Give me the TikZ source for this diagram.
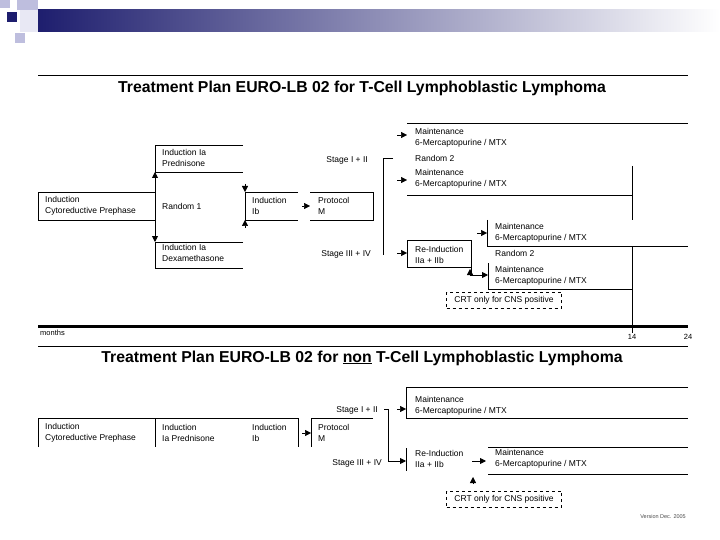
\documentclass[tikz,border=0pt]{standalone}
\usepackage{fontspec}
\setmainfont{Liberation Sans}
\usetikzlibrary{arrows.meta}
\definecolor{navy}{RGB}{30,30,110}
\definecolor{lav}{RGB}{190,190,222}
\begin{document}
\begin{tikzpicture}[x=1pt,y=-1pt,
  lbl/.style={font=\fontsize{8.5}{11}\selectfont, align=left, anchor=west, inner sep=0pt},
  stg/.style={font=\fontsize{8.5}{11}\selectfont, anchor=east, inner sep=0pt},
  sml/.style={font=\fontsize{7.5}{9}\selectfont, inner sep=0pt},
  ttl/.style={font=\fontsize{15.8}{18}\selectfont\bfseries, inner sep=0pt},
  ln/.style={line width=0.9pt},
  arr/.style={line width=0.9pt,-{Triangle[length=6pt,width=6pt]}},
  tipa/.style={line width=0.5pt,-{Triangle[length=6pt,width=6pt]}},
  crt/.style={draw, dashed, line width=0.6pt, font=\fontsize{8.5}{11}\selectfont, minimum width=115pt, minimum height=16pt, inner sep=0pt},
]
\useasboundingbox (0,0) rectangle (720,540);
\fill[white] (0,0) rectangle (720,540);
% header decoration
\fill[lav] (0,0) rectangle (10,8);
\fill[lav] (17,0) rectangle (38,10);
\fill[lav!35] (20,10) rectangle (38,32);
\fill[navy] (7,12) rectangle (17,22);
\fill[lav] (15,33) rectangle (25,43);
\shade[left color=navy, right color=white] (38,10) rectangle (720,32);

% ===== Title 1 =====
\draw[line width=0.6pt] (38,75) -- (688,75);
\node[ttl] (t1) at (362,88) {Treatment Plan EURO-LB 02 for T-Cell Lymphoblastic Lymphoma};

% ===== T-cell section =====
% Induction prephase
\draw[ln] (38,192) rectangle (155,220);
\node[lbl] (tpre) at (45,206) {Induction\\Cytoreductive Prephase};
% Induction Ia Prednisone
\draw[ln] (243,145) -- (155,145) -- (155,172) -- (243,172);
\node[lbl] (tpred) at (162,158) {Induction Ia\\Prednisone};
% Induction Ia Dexamethasone
\draw[ln] (243,242) -- (155,242) -- (155,268) -- (243,268);
\node[lbl] (tdexa) at (162,253) {Induction Ia\\Dexamethasone};
\coordinate (r1up) at (155,172);
\coordinate (r1dn) at (155,242);
\draw[arr, {Triangle[length=6pt,width=6pt]}-{Triangle[length=6pt,width=6pt]}] (r1up) -- (r1dn);
\node[lbl] (rand1) at (162,206) {Random 1};
% Induction Ib
\draw[ln] (298,192) -- (245,192) -- (245,220) -- (298,220);
\node[lbl] (tib) at (252,206) {Induction\\Ib};
\coordinate (ibtop) at (245,192);
\coordinate (ibbot) at (245,220);
\draw[tipa] (245,184) -- (ibtop);
\draw[tipa] (245,228) -- (ibbot);
% Protocol M
\draw[ln] (310,192) -- (373,192) -- (373,220) -- (310,220);
\node[lbl] (tprot) at (318,206) {Protocol\\M};
\coordinate (protw) at (310,206);
\draw[tipa] (302,206) -- (protw);
% Stages
\node[stg] (ts12) at (368,160) {Stage I + II};
\node[stg] (ts34) at (371,254) {Stage III + IV};
\draw[ln] (393,158) -- (383,158) -- (383,255);
% Maintenance (top)
\draw[ln] (407,123) -- (688,123);
\node[lbl] (tm1) at (415,138) {Maintenance\\6-Mercaptopurine / MTX};
\coordinate (tm1w) at (407,135);
\draw[tipa] (397,135) -- (tm1w);
\node[lbl] (trand2a) at (415,158) {Random 2};
\node[lbl] (tm2) at (415,179) {Maintenance\\6-Mercaptopurine / MTX};
\coordinate (tm2w) at (407,180);
\draw[tipa] (397,180) -- (tm2w);
\draw[ln] (407,195) -- (632,195);
\draw[ln] (632,166) -- (632,220);
% Re-Induction
\draw[ln] (471,267) -- (407,267) -- (407,240) -- (471,240) -- (471,275);
\node[lbl] (treind) at (415,255) {Re-Induction\\IIa + IIb};
\coordinate (trew) at (407,253);
\draw[tipa] (397,253) -- (trew);
% Maintenance lower-right
\draw[ln] (487,220) -- (487,246) -- (688,246);
\node[lbl] (tm3) at (495,233) {Maintenance\\6-Mercaptopurine / MTX};
\coordinate (tm3w) at (487,233);
\draw[tipa] (477,233) -- (tm3w);
\node[lbl] (trand2b) at (495,253) {Random 2};
\draw[ln] (488,263) -- (488,289) -- (632,289);
\node[lbl] (tm4) at (495,276) {Maintenance\\6-Mercaptopurine / MTX};
\coordinate (tm4w) at (488,275);
\draw[arr] (471,275) -- (tm4w);
\draw[ln] (632,246) -- (632,333);
% CRT
\node[crt] (tcrt) at (504,300) {CRT only for CNS positive};
\coordinate (tcrtup) at (470,269);
\draw[tipa] (470,276) -- (tcrtup);

% axis
\draw[line width=3pt] (38,326) -- (688,326);
\node[sml, anchor=west] (months) at (40,333) {months};
\node[sml] (m14) at (632,337) {14};
\node[sml] (m24) at (688,337) {24};
\draw[line width=0.6pt] (38,346) -- (688,346);

% ===== Title 2 =====
\node[ttl] (t2) at (362,358) {Treatment Plan EURO-LB 02 for \underline{non} T-Cell Lymphoblastic Lymphoma};

% ===== non T-cell section =====
\draw[ln] (38,447) -- (38,418) -- (298,418) -- (298,447);
\draw[ln] (155,418) -- (155,447);
\node[lbl] (npre) at (45,433) {Induction\\Cytoreductive Prephase};
\node[lbl] (npred) at (162,433) {Induction\\Ia Prednisone};
\node[lbl] (nib) at (252,433) {Induction\\Ib};
\draw[ln] (373,418) -- (311,418) -- (311,447);
\node[lbl] (nprot) at (318,433) {Protocol\\M};
\coordinate (nprotw) at (311,433);
\draw[tipa] (302,433) -- (nprotw);
\node[stg] (ns12) at (378,410) {Stage I + II};
\node[stg] (ns34) at (382,463) {Stage III + IV};
\draw[ln] (384,409) -- (388,409) -- (388,461);
% Maintenance top
\draw[ln] (688,387) -- (406,387) -- (406,418) -- (688,418);
\node[lbl] (nm1) at (415,406) {Maintenance\\6-Mercaptopurine / MTX};
\coordinate (nm1w) at (406,409);
\draw[tipa] (397,409) -- (nm1w);
% Re-Induction
\draw[ln] (406,448) -- (406,471);
\node[lbl] (nreind) at (415,459) {Re-Induction\\IIa + IIb};
\coordinate (nrew) at (406,461);
\draw[arr] (388,461) -- (nrew);
% Maintenance lower
\draw[ln] (488,447) -- (688,447);
\draw[ln] (488,474) -- (688,474);
\node[lbl] (nm2) at (495,459) {Maintenance\\6-Mercaptopurine / MTX};
\coordinate (nm2w) at (486,461);
\draw[arr] (472,461) -- (nm2w);
% CRT
\node[crt] (ncrt) at (504,499) {CRT only for CNS positive};
\coordinate (ncrtup) at (473,477);
\draw[tipa] (473,484) -- (ncrtup);
\node[font=\fontsize{5.5}{6}\selectfont, anchor=east, inner sep=0pt, text=black!70] (ver) at (686,517) {Version Dec. 2005};
\end{tikzpicture}
\end{document}
